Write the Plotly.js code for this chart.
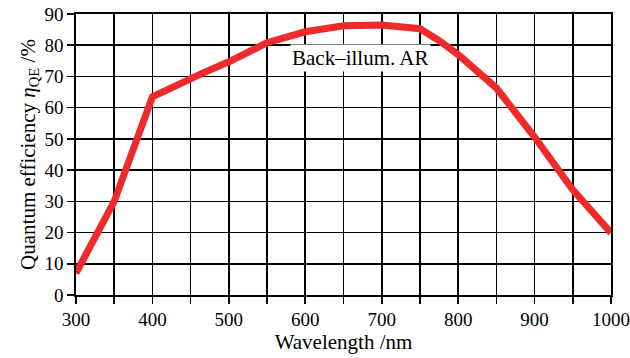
<!DOCTYPE html>
<html>
<head>
<meta charset="utf-8">
<script src="https://cdn.plot.ly/plotly-3.0.1.min.js"></script>
<style>html,body{margin:0;padding:0;background:#ffffff;}#chart{width:630px;height:358px;}</style>
</head>
<body>
<div id="chart"></div>
<script>
const wavelength = [300, 350, 400, 450, 465, 500, 550, 600, 650, 700, 737, 750, 775, 800, 850, 900, 950, 1000];
const qe = [7, 30, 63.5, 69.5, 71, 74.7, 80.8, 84.3, 86.2, 86.5, 85.9, 85.3, 81.5, 77, 66.3, 50.6, 33.7, 19.9];
const xTickVals = [300, 400, 500, 600, 700, 800, 900, 1000];
const xTickText = ["300", "400", "500", "600", "700", "800", "900", "1000"];
const yTickVals = [0, 10, 20, 30, 40, 50, 60, 70, 80, 90];
const curveLabel = "Back–illum. AR";

const font = {family: "Liberation Serif, Times New Roman, serif", size: 19, color: "#000"};
const titleFont = {family: "Liberation Serif, Times New Roman, serif", size: 21, color: "#000"};

Plotly.newPlot("chart", [{
  x: wavelength, y: qe, type: "scatter", mode: "lines",
  line: {color: "#ee2a2a", width: 7}, hoverinfo: "skip"
}], {
  width: 630, height: 358,
  margin: {l: 76, r: 19, t: 14, b: 63},
  paper_bgcolor: "#ffffff", plot_bgcolor: "#ffffff",
  showlegend: false,
  font: font,
  xaxis: {
    range: [300, 1000], tickvals: xTickVals, ticktext: xTickText,
    ticks: "outside", ticklen: 7, tickwidth: 1.6, tickcolor: "#000",
    showgrid: true, gridcolor: "#000", gridwidth: 1.6,
    minor: {tick0: 350, dtick: 100, ticks: "outside", ticklen: 7, tickwidth: 1.6, tickcolor: "#000",
            showgrid: true, gridcolor: "#000", gridwidth: 1.6},
    showline: true, linecolor: "#000", linewidth: 1.6, mirror: true,
    zeroline: false, tickfont: font,
    title: {text: "Wavelength /nm", font: titleFont, standoff: 1}
  },
  yaxis: {
    range: [0, 90], tickvals: yTickVals,
    ticks: "outside", ticklen: 7, tickwidth: 1.6, tickcolor: "#000",
    showgrid: true, gridcolor: "#000", gridwidth: 1.6,
    showline: true, linecolor: "#000", linewidth: 1.6, mirror: true,
    zeroline: false, tickfont: font,
    title: {text: "Quantum efficiency <i>η</i><sub>QE</sub> /%", font: titleFont, standoff: 3}
  },
  annotations: [{
    x: 672, y: 76, xref: "x", yref: "y", text: curveLabel, showarrow: false,
    font: titleFont, bgcolor: "#ffffff"
  }]
}, {displayModeBar: false, staticPlot: true});
</script>
</body>
</html>
